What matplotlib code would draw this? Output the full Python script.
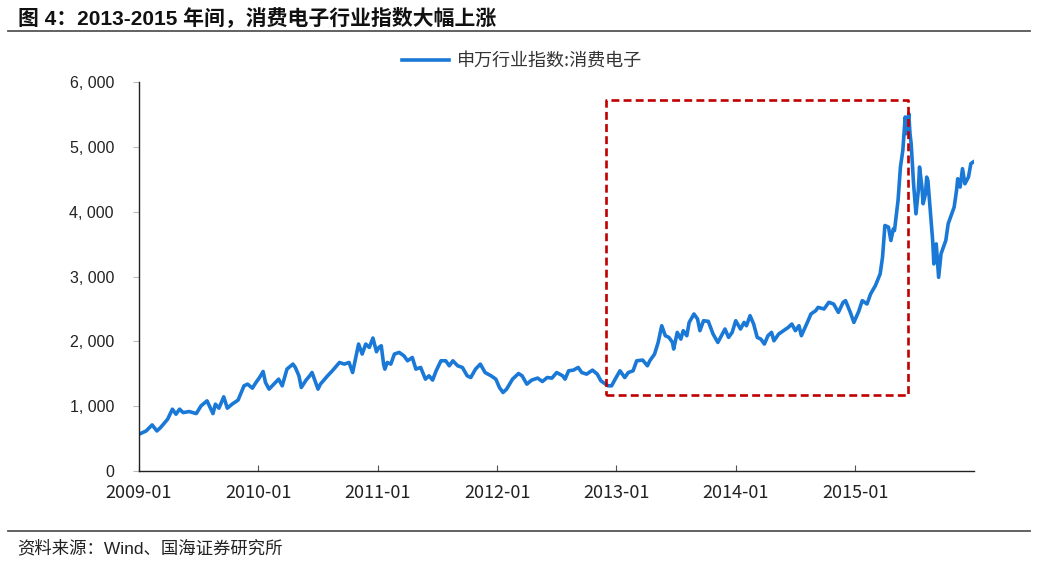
import matplotlib
matplotlib.use("Agg")
import matplotlib.pyplot as plt
from matplotlib.ticker import FuncFormatter, FixedLocator

plt.rcParams['font.family'] = ['Liberation Sans', 'Noto Sans CJK SC', 'DejaVu Sans']

# ---- data (decimal year, index value) ----
years = [2009.00, 2009.06, 2009.11, 2009.15, 2009.18, 2009.24, 2009.28, 2009.31, 2009.34, 2009.37,
         2009.42, 2009.48, 2009.52, 2009.57, 2009.59, 2009.62, 2009.64, 2009.67, 2009.71, 2009.74,
         2009.78, 2009.83, 2009.88, 2009.91, 2009.95, 2009.98, 2010.01, 2010.04, 2010.06, 2010.09,
         2010.13, 2010.17, 2010.20, 2010.24, 2010.29, 2010.31, 2010.34, 2010.36, 2010.40, 2010.43,
         2010.45, 2010.50, 2010.52, 2010.58, 2010.62, 2010.68, 2010.72, 2010.76, 2010.79, 2010.84,
         2010.87, 2010.90, 2010.93, 2010.96, 2010.99, 2011.01, 2011.03, 2011.05, 2011.06, 2011.08,
         2011.11, 2011.14, 2011.18, 2011.22, 2011.25, 2011.29, 2011.32, 2011.36, 2011.40, 2011.43,
         2011.46, 2011.49, 2011.53, 2011.57, 2011.60, 2011.63, 2011.67, 2011.71, 2011.75, 2011.78,
         2011.82, 2011.86, 2011.90, 2011.95, 2011.99, 2012.02, 2012.05, 2012.08, 2012.13, 2012.18,
         2012.21, 2012.25, 2012.29, 2012.34, 2012.38, 2012.42, 2012.46, 2012.50, 2012.55, 2012.57,
         2012.60, 2012.64, 2012.68, 2012.71, 2012.75, 2012.80, 2012.84, 2012.87, 2012.89, 2012.93,
         2012.96, 2012.99, 2013.03, 2013.07, 2013.10, 2013.14, 2013.17, 2013.22, 2013.26, 2013.28,
         2013.32, 2013.35, 2013.38, 2013.41, 2013.44, 2013.47, 2013.48, 2013.51, 2013.54, 2013.56,
         2013.59, 2013.61, 2013.65, 2013.68, 2013.70, 2013.73, 2013.77, 2013.81, 2013.85, 2013.88,
         2013.91, 2013.94, 2013.97, 2014.00, 2014.04, 2014.07, 2014.09, 2014.12, 2014.15, 2014.18,
         2014.21, 2014.24, 2014.27, 2014.30, 2014.32, 2014.36, 2014.40, 2014.44, 2014.47, 2014.50,
         2014.53, 2014.55, 2014.60, 2014.63, 2014.67, 2014.69, 2014.74, 2014.78, 2014.82, 2014.86,
         2014.90, 2014.92, 2014.96, 2014.99, 2015.03, 2015.06, 2015.10, 2015.13, 2015.17, 2015.21,
         2015.23, 2015.25, 2015.28, 2015.30, 2015.32, 2015.33, 2015.36, 2015.38, 2015.40, 2015.42,
         2015.43, 2015.45, 2015.46, 2015.47, 2015.49, 2015.51, 2015.53, 2015.54, 2015.56, 2015.57,
         2015.59, 2015.60, 2015.61, 2015.63, 2015.65, 2015.66, 2015.68, 2015.69, 2015.70, 2015.72,
         2015.74, 2015.76, 2015.78, 2015.81, 2015.83, 2015.85, 2015.86, 2015.88, 2015.90, 2015.92,
         2015.95, 2015.97, 2015.99]
values = [567, 618, 711, 618, 669, 799, 954, 876, 954, 901,
          917, 886, 1005, 1082, 1005, 886, 1031, 969, 1144, 969,
          1031, 1093, 1314, 1340, 1278, 1365, 1442, 1535, 1365, 1263,
          1340, 1417, 1314, 1572, 1649, 1597, 1468, 1288, 1402, 1468,
          1519, 1263, 1340, 1468, 1546, 1674, 1649, 1674, 1519, 1958,
          1804, 1958, 1906, 2051, 1840, 1906, 1932, 1640, 1571, 1674,
          1649, 1804, 1829, 1777, 1700, 1751, 1572, 1597, 1417, 1468,
          1402, 1546, 1700, 1700, 1623, 1700, 1623, 1597, 1468, 1442,
          1572, 1649, 1519, 1468, 1417, 1288, 1211, 1263, 1417, 1504,
          1468, 1340, 1402, 1433, 1380, 1442, 1433, 1519, 1468, 1417,
          1546, 1556, 1597, 1519, 1494, 1556, 1494, 1391, 1365, 1314,
          1314, 1417, 1546, 1442, 1519, 1546, 1700, 1711, 1623, 1700,
          1804, 1983, 2241, 2087, 2061, 1983, 1881, 2138, 2035, 2164,
          2087, 2292, 2422, 2344, 2164, 2318, 2308, 2113, 1983, 2087,
          2190, 2061, 2138, 2318, 2190, 2292, 2241, 2396, 2267, 2061,
          2035, 1958, 2087, 2138, 2009, 2113, 2164, 2215, 2267, 2164,
          2241, 2087, 2292, 2422, 2473, 2524, 2499, 2602, 2576, 2447,
          2602, 2628, 2447, 2292, 2460, 2628, 2576, 2731, 2859, 3040,
          3297, 3787, 3761, 3555, 3735, 3709, 4173, 4688, 4946, 5460,
          5203, 5512, 5203, 5048, 4430, 3967, 4327, 4688, 4379, 4122,
          4276, 4533, 4482, 4019, 3555, 3194, 3503, 3246, 2988, 3349,
          3452, 3555, 3813, 3967, 4070, 4327, 4508, 4379, 4663, 4430,
          4533, 4740, 4766]

series_name = "申万行业指数:消费电子"
tick_years = [2009, 2010, 2011, 2012, 2013, 2014, 2015]
tick_labels = ["2009-01", "2010-01", "2011-01", "2012-01", "2013-01", "2014-01", "2015-01"]
y_ticks = [0, 1000, 2000, 3000, 4000, 5000, 6000]

# highlight box (2013 - mid 2015)
box_x = [2012.915, 2015.445]
box_y = [1175, 5720]

title = "图 4：2013-2015 年间，消费电子行业指数大幅上涨"
source = "资料来源：Wind、国海证券研究所"

# ---- figure ----
fig = plt.figure(figsize=(10.38, 5.62), dpi=100)
ax = fig.add_axes([0.1339, 0.1619, 0.8044, 0.6922])

line, = ax.plot(years, values, color='#1a78d6', lw=2.6, solid_joinstyle='round')

bx = [box_x[0], box_x[1], box_x[1], box_x[0], box_x[0]]
by = [box_y[0], box_y[0], box_y[1], box_y[1], box_y[0]]
ax.plot(bx, by, color='#c00000', lw=1.9, ls=(0, (3, 1.6)))

ax.set_xlim(2009.0, 2015.996)
ax.set_ylim(0, 6000)

ax.xaxis.set_major_locator(FixedLocator(tick_years))
ax.set_xticklabels(tick_labels)
ax.yaxis.set_major_locator(FixedLocator(y_ticks))
ax.yaxis.set_major_formatter(FuncFormatter(lambda v, p: "0" if v == 0 else f"{int(v):,}".replace(",", ", ")))

for s in ['top', 'right']:
    ax.spines[s].set_visible(False)
for s in ['left', 'bottom']:
    ax.spines[s].set_color('#222222')
    ax.spines[s].set_linewidth(1.0)

ax.tick_params(axis='x', direction='in', length=4, width=0.8, color='#555555',
               labelsize=13, labelcolor='#222222', pad=9)
ax.tick_params(axis='y', direction='out', length=4, width=0.8, color='#bbbbbb',
               labelsize=11.5, labelcolor='#222222', pad=14)
for lab in ax.get_xticklabels():
    lab.set_family(['Noto Sans CJK SC', 'DejaVu Sans'])

fig.legend([line], [series_name], loc='center', bbox_to_anchor=(0.503, 0.891),
           frameon=False, handlelength=2.6, handletextpad=0.4,
           prop={'family': ['Noto Sans CJK SC', 'DejaVu Sans'], 'size': 13},
           labelcolor='#333333')

fig.text(0.017, 0.969, title, fontsize=15, fontweight='bold', ha='left', va='center',
         color='#111111', family=['Liberation Sans', 'Noto Sans CJK SC'])
fig.add_artist(plt.Line2D([0.008, 0.992], [0.945, 0.945], color='#555555', lw=1.3))
fig.add_artist(plt.Line2D([0.008, 0.992], [0.055, 0.055], color='#555555', lw=1.3))
fig.text(0.017, 0.025, source, fontsize=12.5, ha='left', va='center', color='#222222',
         family=['Liberation Sans', 'Noto Sans CJK SC'])

fig.savefig('out.png', dpi=100, facecolor='white')
